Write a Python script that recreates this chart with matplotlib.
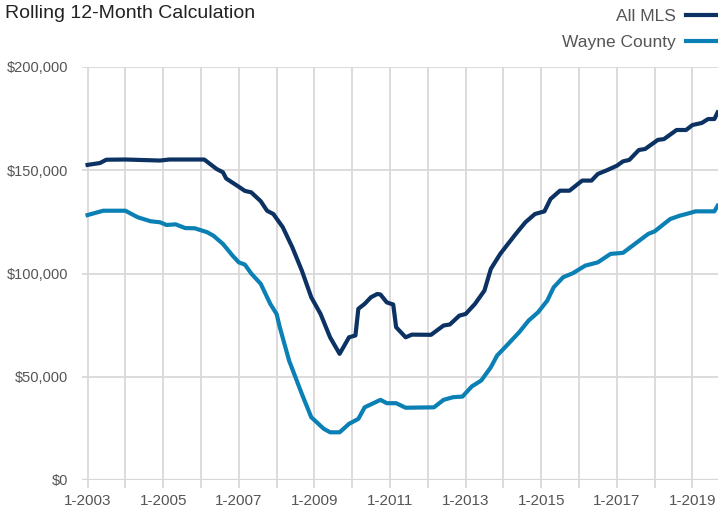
import matplotlib.pyplot as plt
import pandas as pd

# All MLS, rolling 12-month median price
mls_dates = ['2003-01', '2003-05', '2003-07', '2004-01', '2004-12', '2005-03', '2006-02',
             '2006-06', '2006-08', '2006-09', '2007-01', '2007-03', '2007-05', '2007-08',
             '2007-10', '2007-12', '2008-03', '2008-06', '2008-09', '2008-12', '2009-03',
             '2009-06', '2009-09', '2009-12', '2010-02', '2010-03', '2010-05', '2010-07',
             '2010-09', '2010-10', '2010-12', '2011-02', '2011-03', '2011-06', '2011-08',
             '2012-02', '2012-06', '2012-08', '2012-11', '2013-01', '2013-04', '2013-07',
             '2013-09', '2013-12', '2014-02', '2014-05', '2014-08', '2014-11', '2015-02',
             '2015-04', '2015-07', '2015-10', '2016-02', '2016-05', '2016-07', '2016-10',
             '2017-01', '2017-03', '2017-05', '2017-08', '2017-10', '2018-02', '2018-04',
             '2018-08', '2018-11', '2019-01', '2019-04', '2019-06', '2019-08', '2019-09']
mls_values = [152600, 153500, 155100, 155200, 154700, 155200, 155200,
              150600, 149000, 146000, 142000, 140000, 139300, 135000,
              130400, 128800, 122400, 112700, 101400, 88500, 80400,
              69100, 61100, 69100, 70000, 82900, 85300, 88500,
              90100, 89800, 86000, 85000, 74000, 69100, 70400,
              70300, 74800, 75300, 79600, 80400, 85300, 91700,
              102200, 109500, 113500, 119200, 124800, 128800, 130100,
              136100, 140100, 140100, 145000, 145000, 148200, 150100,
              152200, 154300, 155000, 159800, 160300, 164700, 165100,
              169500, 169500, 171900, 172900, 174800, 174800, 178000]

# Wayne County
wayne_dates = ['2003-01', '2003-06', '2004-01', '2004-05', '2004-09', '2004-12', '2005-02',
               '2005-05', '2005-08', '2005-11', '2006-03', '2006-05', '2006-08', '2006-11',
               '2007-01', '2007-03', '2007-05', '2007-08', '2007-11', '2008-01', '2008-02',
               '2008-05', '2008-09', '2008-12', '2009-04', '2009-06', '2009-09', '2009-12',
               '2010-03', '2010-05', '2010-09', '2010-10', '2010-12', '2011-03', '2011-06',
               '2012-03', '2012-06', '2012-09', '2012-12', '2013-03', '2013-06', '2013-09',
               '2013-11', '2014-02', '2014-06', '2014-09', '2014-12', '2015-03', '2015-05',
               '2015-08', '2015-11', '2016-03', '2016-07', '2016-11', '2017-03', '2017-07',
               '2017-11', '2018-01', '2018-04', '2018-06', '2018-09', '2018-11', '2019-02',
               '2019-08', '2019-09']
wayne_values = [128300, 130400, 130400, 127200, 125300, 124800, 123500,
                123800, 122000, 121900, 120000, 118300, 114300, 108700,
                105400, 104300, 100000, 95000, 85300, 80400, 74000,
                57800, 41700, 30400, 24800, 23100, 23100, 27200,
                29600, 35200, 38100, 38800, 37200, 37200, 35000,
                35200, 38800, 40100, 40400, 45300, 48200, 54600,
                60300, 65100, 71500, 77200, 81200, 86900, 93300,
                98200, 100100, 103800, 105400, 109500, 110000, 114600,
                119200, 120400, 124000, 126400, 128000, 128800, 130100,
                130100, 132800]

year_ticks = list(range(2003, 2020))
labelled_years = list(range(2003, 2020, 2))

plt.rcParams['font.family'] = ['Liberation Sans', 'DejaVu Sans']

mls = pd.Series(mls_values, index=pd.to_datetime(mls_dates))
wayne = pd.Series(wayne_values, index=pd.to_datetime(wayne_dates))

fig = plt.figure(figsize=(7.18, 5.15), dpi=100)
ax = fig.add_axes([82 / 718, 35 / 515, 636 / 718, 413 / 515])

ax.plot(mls.index, mls.values, color='#0c3263', lw=3.0, label='All MLS', solid_joinstyle='round')
ax.plot(wayne.index, wayne.values, color='#0b80b5', lw=3.0, label='Wayne County', solid_joinstyle='round')

ax.set_ylim(0, 200000)
ax.set_yticks(range(0, 200001, 50000))
ax.yaxis.set_major_formatter(plt.FuncFormatter(lambda v, p: '${:,.0f}'.format(v)))
ax.set_xlim(pd.Timestamp('2002-11-08'), pd.Timestamp('2019-09-05'))
ax.set_xticks([pd.Timestamp(f'{y}-01-01') for y in year_ticks])
ax.set_xticklabels([f'1-{y}' if y in labelled_years else '' for y in year_ticks])

ax.grid(True, color='#d9d9d9', lw=1.3)
ax.set_axisbelow(True)
for s in ax.spines.values():
    s.set_visible(False)
ax.axhline(0, color='#cccccc', lw=1.6, zorder=0)
ax.tick_params(axis='y', length=0, pad=10, labelsize=10.5, labelcolor='#555555')
ax.tick_params(axis='x', length=6, width=1.3, color='#d9d9d9', pad=4, labelsize=11, labelcolor='#555555')

fig.text(5 / 718, 1 - 13 / 515, 'Rolling 12-Month Calculation', fontsize=14, color='#222222', va='center')
ax.legend(loc='upper right', bbox_to_anchor=(716 / 718, 1 - 9 / 515), bbox_transform=fig.transFigure,
          frameon=False, markerfirst=False, handlelength=1.75, fontsize=12.5, labelcolor='#555555',
          borderaxespad=0, borderpad=0, labelspacing=0.62, handletextpad=0.55)

fig.savefig('out.png', dpi=100)
